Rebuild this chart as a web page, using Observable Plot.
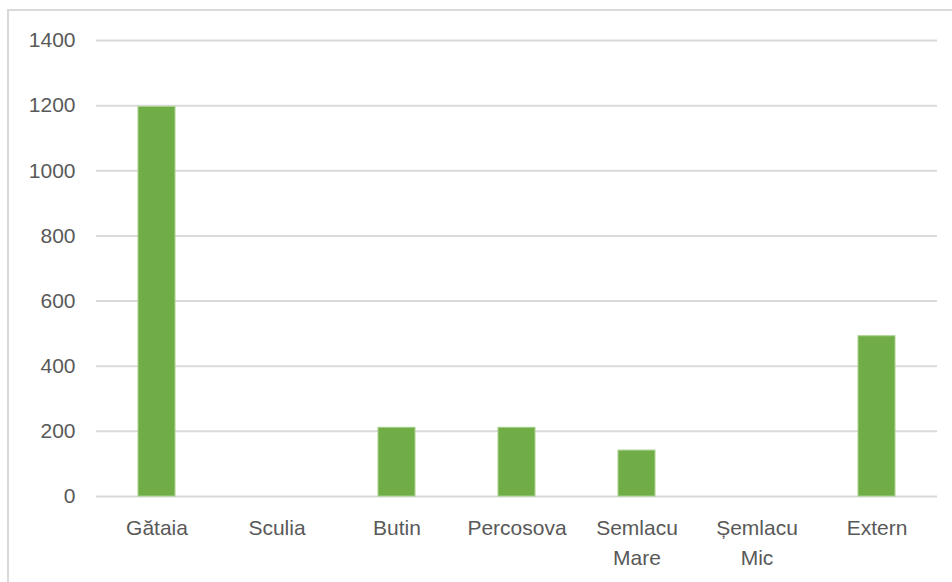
<!DOCTYPE html>
<html>
<head>
<meta charset="utf-8">
<script src="https://cdn.jsdelivr.net/npm/d3@7"></script>
<script src="https://cdn.jsdelivr.net/npm/@observablehq/plot@0.6"></script>
<style>
  html, body { margin: 0; padding: 0; background: #fff; }
  #wrap { position: relative; width: 952px; height: 582px; overflow: hidden; }
  #border { position: absolute; left: 7px; top: 9px; width: 960px; height: 600px;
            border-top: 2px solid #d9d9d9; border-left: 2px solid #d9d9d9; box-sizing: border-box; }
  #chart { position: absolute; left: 0; top: 0; }
</style>
</head>
<body>
<div id="wrap"><div id="border"></div><div id="chart"></div></div>
<script>
const categories = ["Gătaia", "Sculia", "Butin", "Percosova", "Semlacu Mare", "Șemlacu Mic", "Extern"];
const values = [1196, 0, 211, 211, 141, 0, 492];
const yTicks = [0, 200, 400, 600, 800, 1000, 1200, 1400];

const data = categories.map((c, i) => ({category: c, value: values[i]}));

const chart = Plot.plot({
  width: 952,
  height: 582,
  marginLeft: 96,
  marginRight: 15,
  marginTop: 40,
  marginBottom: 86,
  style: {fontFamily: "'Liberation Sans', Arial, sans-serif", fontSize: "21px", color: "#595959", background: "transparent"},
  x: {domain: categories, paddingInner: 0.69, paddingOuter: 0.345, align: 0.5, label: null},
  y: {domain: [0, 1400], label: null},
  marks: [
    Plot.gridY(yTicks, {stroke: "#d9d9d9", strokeOpacity: 1, strokeWidth: 2}),
    Plot.barY(data, {x: "category", y: "value", fill: "#70ad47", stroke: "#a9d18e", strokeWidth: 1}),
    Plot.axisY({ticks: yTicks, tickFormat: "d", tickSize: 0, tickPadding: 21, label: null, fill: "#595959"}),
    Plot.axisX({tickSize: 0, tickPadding: 17, label: null, fill: "#595959", lineHeight: 1.43,
                tickFormat: d => d.replace(" ", "\n")})
  ]
});
document.getElementById("chart").appendChild(chart);
</script>
</body>
</html>
